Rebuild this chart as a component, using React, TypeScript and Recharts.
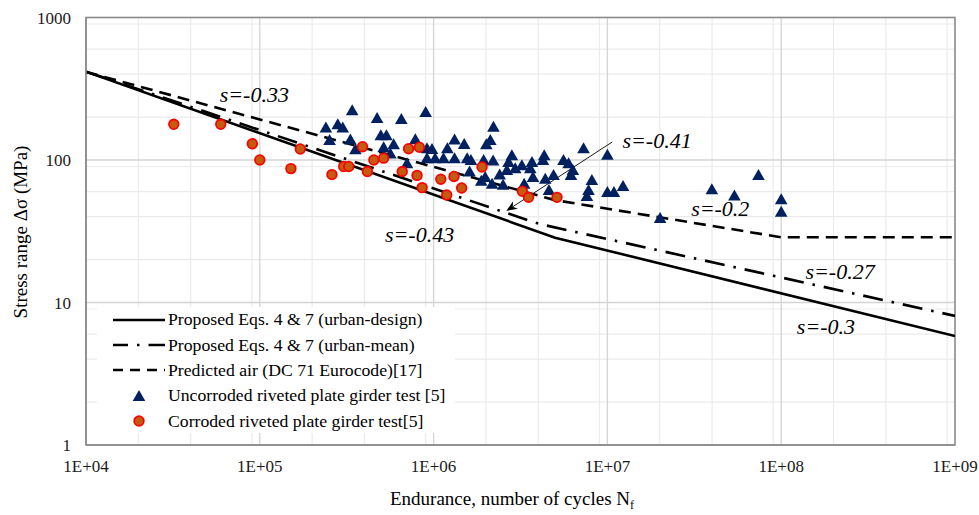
import React from "react";
import {
  CartesianGrid,
  ComposedChart,
  Legend,
  Line,
  ReferenceArea,
  ReferenceDot,
  ReferenceLine,
  Scatter,
  XAxis,
  YAxis,
} from "recharts";

const SERIF = '"Liberation Serif", "Times New Roman", Times, serif';

const xTicks = [1e4, 1e5, 1e6, 1e7, 1e8, 1e9];
const yTicks = [1, 10, 100, 1000];
const minorX = [1e4, 1e5, 1e6, 1e7, 1e8].flatMap((d) => [2, 3, 4, 5, 6, 7, 8, 9].map((m) => d * m));
const minorY = [1, 10, 100].flatMap((d) => [2, 3, 4, 5, 6, 7, 8, 9].map((m) => d * m));

// S-N curves (N cycles, stress range MPa)
const designCurve = [
  { n: 1e4, s: 417 },
  { n: 5e6, s: 28.5 },
  { n: 1e9, s: 5.82 },
];
const meanCurve = [
  { n: 1e4, s: 417 },
  { n: 4.05e6, s: 35.6 },
  { n: 1e9, s: 8.05 },
];
const eurocodeCurve = [
  { n: 1e4, s: 415 },
  { n: 5e6, s: 52.3 },
  { n: 1e8, s: 28.7 },
  { n: 1e9, s: 28.7 },
];

const uncorroded = [
  [3.4e5, 223], [4.73e5, 197], [6.52e5, 194], [9.0e5, 217], [2.4e5, 169], [2.81e5, 178],
  [3.0e5, 169], [2.52e5, 138], [3.32e5, 139], [3.55e5, 119], [4.97e5, 149], [5.35e5, 149],
  [5.16e5, 123], [5.89e5, 129], [5.64e5, 111], [7.85e5, 140], [7.03e5, 95], [9.16e5, 121],
  [9.79e5, 119.5], [9.16e5, 103], [1.02e6, 103], [1.2e6, 121], [1.32e6, 139], [1.14e6, 103],
  [1.32e6, 103], [2.21e6, 171], [2.12e6, 138], [2.01e6, 129], [1.5e6, 129.5], [1.56e6, 103],
  [1.64e6, 100], [1.61e6, 83], [1.94e6, 100], [2.2e6, 99], [1.88e6, 71.5], [1.98e6, 76],
  [2.17e6, 68], [2.4e6, 79], [2.51e6, 67], [2.82e6, 108], [2.7e6, 97], [2.64e6, 85],
  [2.95e6, 87.5], [3.22e6, 92], [3.68e6, 97], [3.6e6, 87.5], [3.32e6, 68], [3.73e6, 76],
  [4.33e6, 108], [4.26e6, 100], [4.39e6, 74], [4.9e6, 78.5], [4.61e6, 61.6], [5.59e6, 100],
  [5.98e6, 95], [6.33e6, 85], [6.17e6, 78.5], [7.29e6, 121], [1.0e7, 109], [8.14e6, 72.4],
  [7.79e6, 61.6], [7.62e6, 56], [1.0e7, 59.6], [1.09e7, 59.6], [1.23e7, 65.7], [2.01e7, 39.2],
  [3.99e7, 62.3], [5.38e7, 56.3], [7.4e7, 78.5], [1.0e8, 53], [1.0e8, 43.4],
].map(([n, s]) => ({ n, s }));

const corroded = [
  [3.2e4, 178], [5.96e4, 178], [9.06e4, 130], [1.0e5, 100], [1.51e5, 87], [1.71e5, 119.5],
  [2.6e5, 79], [3.04e5, 90], [3.25e5, 90], [3.9e5, 124], [4.16e5, 83], [4.53e5, 100],
  [5.16e5, 103], [6.6e5, 83], [7.18e5, 120], [8.28e5, 123], [8.03e5, 78], [8.59e5, 64],
  [1.1e6, 73.3], [1.19e6, 56.8], [1.31e6, 76.6], [1.45e6, 63.6], [1.9e6, 89.3], [3.24e6, 60.4],
  [3.52e6, 54.7], [5.13e6, 54.7],
].map(([n, s]) => ({ n, s }));

const slopeLabels = [
  { n: 9.3e4, s: 286, text: "s=-0.33" },
  { n: 1.93e7, s: 138, text: "s=-0.41" },
  { n: 4.46e7, s: 46, text: "s=-0.2" },
  { n: 8.3e5, s: 29.8, text: "s=-0.43" },
  { n: 2.18e8, s: 16.4, text: "s=-0.27" },
  { n: 1.81e8, s: 6.84, text: "s=-0.3" },
];

const arrow = [
  { x: 1.066e7, y: 133.8 },
  { x: 2.62e6, y: 43.9 },
];

const NAVY = "#002060";
const FILL_ORANGE = "#C55A11";

const fmtX = (v: number) => "1E+" + String(Math.round(Math.log10(v))).padStart(2, "0");

const Triangle = (p: any) => {
  const { cx, cy } = p;
  if (cx == null || cy == null) return null;
  return <polygon points={`${cx},${cy - 6} ${cx + 6.3},${cy + 5} ${cx - 6.3},${cy + 5}`} fill={NAVY} />;
};

const Dot = (p: any) => {
  const { cx, cy } = p;
  if (cx == null || cy == null) return null;
  return <circle cx={cx} cy={cy} r={4.8} fill={FILL_ORANGE} stroke="#FF0000" strokeWidth={1.8} />;
};

const Arrow = (p: any) => {
  const { x1, y1, x2, y2 } = p;
  const ang = Math.atan2(y2 - y1, x2 - x1);
  const L = 11;
  const W = 4.5;
  const bx = x2 - L * Math.cos(ang);
  const by = y2 - L * Math.sin(ang);
  const nx = -Math.sin(ang);
  const ny = Math.cos(ang);
  const mx = x2 - L * 0.7 * Math.cos(ang);
  const my = y2 - L * 0.7 * Math.sin(ang);
  return (
    <g>
      <line x1={x1} y1={y1} x2={mx} y2={my} stroke="#000" strokeWidth={0.9} />
      <polygon
        points={`${x2},${y2} ${bx + nx * W},${by + ny * W} ${mx},${my} ${bx - nx * W},${by - ny * W}`}
        fill="#000"
      />
    </g>
  );
};

const SlopeText = (text: string) => (p: any) =>
  (
    <text
      x={p.cx}
      y={p.cy}
      textAnchor="middle"
      dominantBaseline="central"
      fontFamily={SERIF}
      fontStyle="italic"
      fontSize={22}
      fill="#000"
    >
      {text}
    </text>
  );

const legendRows = [
  { kind: "solid", label: "Proposed Eqs. 4 & 7 (urban-design)" },
  { kind: "dashdot", label: "Proposed Eqs. 4 & 7 (urban-mean)" },
  { kind: "dash", label: "Predicted air (DC 71 Eurocode)[17]" },
  { kind: "tri", label: "Uncorroded riveted plate girder test [5]" },
  { kind: "dot", label: "Corroded riveted plate girder test[5]" },
];

const LegendBox = () => (
  <div style={{ background: "#fff", width: 358, height: 126, fontFamily: SERIF, fontSize: 17.7, color: "#000" }}>
    {legendRows.map((r) => (
      <div key={r.label} style={{ display: "flex", alignItems: "center", height: 25.4, paddingLeft: 16 }}>
        <svg width={52} height={14} style={{ flex: "none" }}>
          {r.kind === "solid" && <line x1={0} y1={7} x2={52} y2={7} stroke="#000" strokeWidth={2.5} />}
          {r.kind === "dashdot" && (
            <line x1={0} y1={7} x2={52} y2={7} stroke="#000" strokeWidth={2.5} strokeDasharray="15 9 2.5 9 20" />
          )}
          {r.kind === "dash" && (
            <line x1={0} y1={7} x2={52} y2={7} stroke="#000" strokeWidth={2.5} strokeDasharray="10 7" />
          )}
          {r.kind === "tri" && <Triangle cx={26} cy={7} />}
          {r.kind === "dot" && <Dot cx={26} cy={7} />}
        </svg>
        <span style={{ marginLeft: 3, whiteSpace: "nowrap" }}>{r.label}</span>
      </div>
    ))}
  </div>
);

const XTitle = () => (
  <text x={512} y={505} textAnchor="middle" fontFamily={SERIF} fontSize={19} fill="#000">
    Endurance, number of cycles N
    <tspan fontSize={12} dy={4}>
      f
    </tspan>
  </text>
);

const YTitle = () => (
  <text
    x={20}
    y={232}
    transform="rotate(-90 20 232)"
    textAnchor="middle"
    dominantBaseline="central"
    fontFamily={SERIF}
    fontSize={19}
    fill="#000"
  >
    Stress range Δσ (MPa)
  </text>
);

export default function App() {
  return (
    <div style={{ position: "absolute", left: 0, top: 0, width: 979, height: 515, background: "#fff" }}>
      <ComposedChart width={979} height={515} margin={{ top: 17.5, right: 24, bottom: 0, left: 0 }}>
        <CartesianGrid stroke="#ebebeb" strokeWidth={1.2} verticalValues={minorX} horizontalValues={minorY} />
        <CartesianGrid stroke="#d4d4d4" strokeWidth={1.3} verticalValues={xTicks} horizontalValues={yTicks} />
        <XAxis
          dataKey="n"
          type="number"
          scale="log"
          domain={[1e4, 1e9]}
          allowDataOverflow
          ticks={xTicks}
          tickFormatter={fmtX}
          height={70}
          tickSize={0}
          tickMargin={15}
          axisLine={{ stroke: "#8c8c8c", strokeWidth: 1.5 }}
          tick={{ fontFamily: SERIF, fontSize: 17, fill: "#1a1a1a" }}
          label={<XTitle />}
        />
        <YAxis
          dataKey="s"
          type="number"
          scale="log"
          domain={[1, 1000]}
          allowDataOverflow
          ticks={yTicks}
          width={86}
          tickSize={0}
          tickMargin={15}
          axisLine={{ stroke: "#8c8c8c", strokeWidth: 1.5 }}
          tick={{ fontFamily: SERIF, fontSize: 17, fill: "#1a1a1a" }}
          label={<YTitle />}
        />
        <ReferenceArea x1={1e4} x2={1e9} y1={1} y2={1000} fill="none" stroke="#8c8c8c" strokeWidth={1.5} />
        <Line
          data={eurocodeCurve}
          dataKey="s"
          stroke="#000"
          strokeWidth={2.6}
          strokeDasharray="12 7"
          dot={false}
          isAnimationActive={false}
        />
        <Line
          data={meanCurve}
          dataKey="s"
          stroke="#000"
          strokeWidth={2.6}
          strokeDasharray="20 9 2.5 9"
          dot={false}
          isAnimationActive={false}
        />
        <Line data={designCurve} dataKey="s" stroke="#000" strokeWidth={2.6} dot={false} isAnimationActive={false} />
        <Scatter data={uncorroded} shape={Triangle} isAnimationActive={false} />
        <Scatter data={corroded} shape={Dot} isAnimationActive={false} />
        <ReferenceLine segment={arrow} shape={Arrow} ifOverflow="visible" />
        {slopeLabels.map((l) => (
          <ReferenceDot key={l.text} x={l.n} y={l.s} r={0} shape={SlopeText(l.text)} ifOverflow="visible" />
        ))}
        <Legend
          layout="horizontal"
          align="center"
          verticalAlign="middle"
          content={() => <LegendBox />}
          wrapperStyle={{ left: 97, top: 307, width: 358, height: 126 }}
        />
      </ComposedChart>
    </div>
  );
}
